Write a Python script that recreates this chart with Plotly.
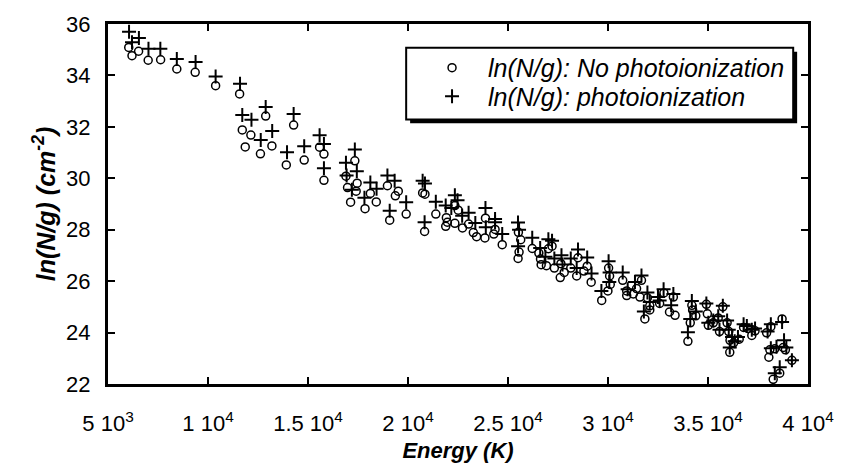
import plotly.graph_objects as go

# ---- data ----
no_photo_x = [6037, 6200, 6530, 7009, 7631, 8441, 9359, 10381, 11581, 11714, 11862, 12143, 12622, 12884,
              13195, 13915, 14282, 14810, 15580, 15797, 15797, 16898, 16977, 17130, 17342, 17456, 17408,
              17852, 18117, 18413, 18971, 19085, 19367, 19515, 19909, 20732, 20848, 20830, 21391, 21918,
              21967, 21885, 22343, 22511, 22343, 22724, 23030, 23267, 23430, 23873, 23845, 24353, 24290,
              24711, 25520, 25636, 25553, 25504, 26212, 27019, 27202, 26542, 26625, 26658, 26921, 27317,
              27645, 27810, 27612, 28138, 28500, 28434, 28796, 28960, 29159, 30030, 30080, 30113, 29685,
              29996, 30736, 31674, 30935, 30935, 31265, 31428, 31596, 31971, 32089, 32089, 31843, 32795,
              32582, 33075, 33268, 33353, 34192, 34230, 34390, 34113, 33995, 34918, 34967, 35016, 35264,
              35510, 35742, 35575, 35955, 36038, 36100, 36088, 36280, 36560, 36780, 36990, 37190, 37353,
              37930, 38142, 38092, 38043, 38340, 38760, 38870, 38704, 39196, 38586, 38260]
no_photo_y = [35.09, 34.77, 34.94, 34.59, 34.61, 34.25, 34.12, 33.60, 33.28, 31.88, 31.22, 31.68, 30.95, 32.42,
              31.26, 30.52, 32.07, 30.71, 31.21, 30.94, 29.92, 30.08, 29.64, 29.07, 30.68, 29.81, 29.50,
              28.82, 29.41, 29.08, 29.71, 28.37, 29.32, 29.50, 28.61, 29.43, 29.38, 27.93, 28.61, 28.47,
              28.29, 28.13, 28.94, 28.76, 28.25, 28.07, 28.22, 27.89, 27.73, 28.45, 27.68, 28.01, 27.83,
              27.42, 27.90, 27.61, 27.13, 26.88, 27.27, 27.26, 27.36, 27.09, 26.86, 26.64, 26.60, 26.51,
              26.68, 26.34, 26.14, 26.51, 26.91, 26.20, 26.39, 26.58, 25.96, 26.51, 26.20, 25.87, 25.25,
              25.62, 26.03, 26.03, 25.62, 25.44, 25.50, 25.71, 25.38, 25.35, 24.88, 25.04, 24.53, 25.54,
              25.13, 24.80, 25.38, 24.67, 25.06, 24.88, 24.65, 24.38, 23.66, 25.10, 24.73, 24.28, 24.38,
              24.57, 25.00, 24.04, 24.38, 24.04, 23.70, 23.23, 23.60, 23.74, 24.20, 24.16, 23.89, 24.07,
              23.99, 24.23, 23.33, 23.04, 23.37, 23.42, 23.33, 24.53, 22.92, 22.42, 22.18]

photo_x = [6052, 6545, 6200, 7024, 7617, 8441, 9379, 10381, 11601, 12884, 11714, 12173, 12637, 13210, 13951,
           14282, 14810, 15580, 15797, 15797, 17342, 16898, 16930, 17441, 17194, 17822, 18117, 18428,
           18971, 19332, 19085, 19909, 20732, 20848, 20830, 21391, 21885, 22166, 22343, 22477, 22708,
           23030, 23366, 23873, 24353, 24353, 23890, 24711, 25500, 25553, 25504, 26212, 27019, 27202,
           26609, 26871, 27317, 27674, 27726, 28138, 28500, 28960, 28434, 29177, 30030, 30080, 30064,
           29670, 30736, 31674, 31349, 30983, 31971, 32089, 31793, 32780, 32582, 32499, 33158, 33268,
           34192, 34390, 34113, 33995, 34918, 35016, 35264, 35510, 35742, 35575, 35955, 36038, 36202,
           36088, 36334, 36498, 36780, 36942, 37190, 37353, 37980, 38142, 38142, 38424, 38802, 38917,
           38704, 39196, 38586, 38340]
photo_y = [35.70, 35.46, 35.29, 35.04, 35.04, 34.64, 34.52, 33.96, 33.68, 32.77, 32.46, 32.28, 31.49, 31.84,
           31.01, 32.50, 31.25, 31.67, 31.33, 30.39, 31.12, 30.60, 30.11, 30.27, 29.55, 29.24, 29.84, 29.59,
           30.11, 29.90, 28.74, 29.07, 29.90, 29.80, 28.29, 29.09, 28.94, 28.84, 29.34, 29.15, 28.54,
           28.66, 28.26, 28.84, 28.42, 28.29, 28.10, 27.83, 28.28, 28.00, 27.36, 27.69, 27.63, 27.57,
           27.29, 26.95, 26.88, 27.01, 26.65, 26.88, 27.23, 26.92, 26.51, 26.30, 26.77, 26.34, 25.97,
           25.62, 26.34, 26.22, 25.97, 25.68, 25.56, 25.19, 24.82, 25.68, 25.25, 25.38, 25.06, 25.50,
           25.23, 24.82, 24.53, 24.01, 25.13, 24.38, 24.47, 24.63, 25.04, 24.11, 24.47, 24.11, 23.83,
           23.42, 23.66, 23.83, 24.32, 24.26, 24.11, 24.16, 24.04, 24.32, 23.39, 23.45, 23.70, 23.42,
           24.41, 22.92, 22.65, 22.42]

x_tick_vals = [5000, 10000, 15000, 20000, 25000, 30000, 35000, 40000]
x_tick_text = ["5 10<sup>3</sup>", "1 10<sup>4</sup>", "1.5 10<sup>4</sup>", "2 10<sup>4</sup>",
               "2.5 10<sup>4</sup>", "3 10<sup>4</sup>", "3.5 10<sup>4</sup>", "4 10<sup>4</sup>"]
y_tick_vals = [22, 24, 26, 28, 30, 32, 34, 36]

FONT = "Liberation Sans, Arial, Helvetica, sans-serif"
W, H = 846, 472
ML, MR, MT, MB = 108, 29, 17, 78
PW, PH = W - ML - MR, H - MT - MB


def px_x(p):
    return (p - ML) / PW


def px_y(p):
    return (H - MB - p) / PH


fig = go.Figure()
fig.add_trace(go.Scatter(
    x=no_photo_x, y=no_photo_y, mode="markers", name="ln(N/g): No photoionization",
    legend="legend",
    marker=dict(symbol="circle-open", size=8, color="black", line=dict(width=1.5, color="black")),
))
fig.add_trace(go.Scatter(
    x=photo_x, y=photo_y, mode="markers", name="ln(N/g): photoionization",
    legend="legend2",
    marker=dict(symbol="cross-thin-open", size=10, color="black", line=dict(width=2, color="black")),
))

# legend frame with drop shadow
fig.add_shape(type="rect", xref="paper", yref="paper",
              x0=px_x(414), x1=px_x(806), y0=px_y(121), y1=px_y(46),
              fillcolor="black", line=dict(width=0), layer="above")
fig.add_shape(type="rect", xref="paper", yref="paper",
              x0=px_x(410), x1=px_x(802), y0=px_y(117), y1=px_y(42),
              fillcolor="white", line=dict(width=2, color="black"), layer="above")

axis_common = dict(
    showline=True, linewidth=3, linecolor="black", mirror="ticks",
    ticks="inside", ticklen=7, tickwidth=1.5, tickcolor="black",
    showgrid=False, zeroline=False,
    tickfont=dict(family=FONT, size=22, color="black"),
)

legend_common = dict(
    xanchor="left", yanchor="middle",
    bgcolor="rgba(0,0,0,0)", borderwidth=0,
    font=dict(family=FONT, size=25, color="black", style="italic"),
    itemwidth=62,
)

fig.update_layout(
    width=W, height=H,
    margin=dict(l=ML, r=MR, t=MT, b=MB),
    paper_bgcolor="white", plot_bgcolor="white",
    font=dict(family=FONT, color="black"),
    showlegend=True,
    legend=dict(x=px_x(420), y=px_y(63), **legend_common),
    legend2=dict(x=px_x(420), y=px_y(93), **legend_common),
    xaxis=dict(
        range=[5000, 40000], tickvals=x_tick_vals, ticktext=x_tick_text,
        ticklabelstandoff=18,
        title=dict(text="Energy (K)", standoff=8,
                   font=dict(family=FONT, size=22, color="black", weight="bold", style="italic")),
        **axis_common,
    ),
    yaxis=dict(
        range=[22, 36], tickvals=y_tick_vals,
        ticklabelstandoff=10,
        title=dict(text="ln(N/g) (cm<sup>-2</sup>)", standoff=4,
                   font=dict(family=FONT, size=25, color="black", weight="bold", style="italic")),
        **axis_common,
    ),
)

fig.write_html("out.html")
